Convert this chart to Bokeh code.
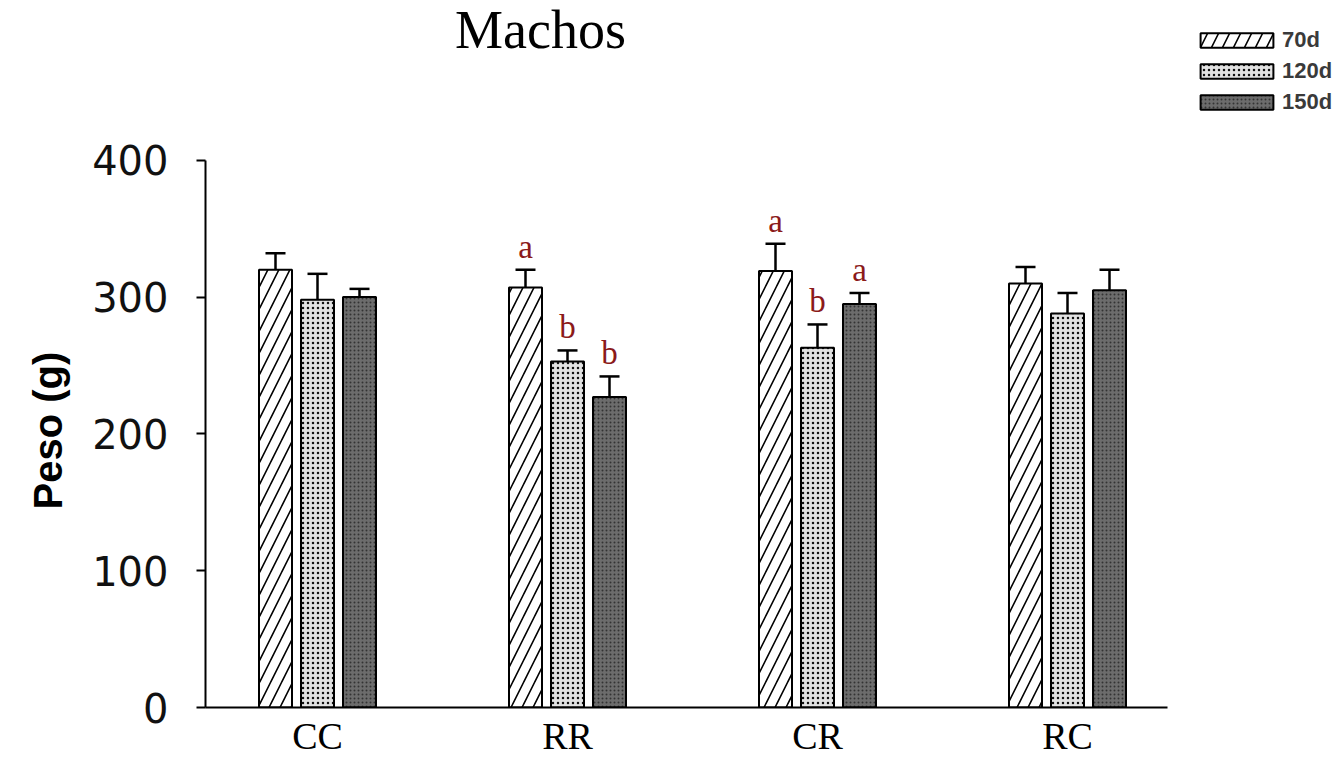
import math
from bokeh.plotting import figure
from bokeh.models import (ColumnDataSource, Range1d, FixedTicker, Whisker, TeeHead,
                          Legend, LegendItem, Label, Title)
from bokeh.core.properties import value
from bokeh.embed import file_html
from bokeh.resources import INLINE

groups = ["CC", "RR", "CR", "RC"]
series = ["70d", "120d", "150d"]
mean_70 = [320, 307, 319, 310]
mean_120 = [298, 253, 263, 288]
mean_150 = [300, 227, 295, 305]
err_70 = [332, 320, 339, 322]
err_120 = [317, 261, 280, 303]
err_150 = [306, 242, 303, 320]
letters_70 = ["", "a", "a", ""]
letters_120 = ["", "b", "b", ""]
letters_150 = ["", "b", "a", ""]
title_text = "Machos"
y_label = "Peso (g)"
y_ticks = [0, 100, 200, 300, 400]

W, H = 1341, 759
p = figure(width=W, height=H, output_backend="svg", toolbar_location=None,
           x_range=Range1d(-0.448, 4.096), y_range=Range1d(0, 516.8),
           min_border_left=205, min_border_right=0, min_border_top=0, min_border_bottom=51)
p.outline_line_color = None
p.xgrid.visible = False
p.ygrid.visible = False
p.background_fill_color = "white"

styles = [
    dict(fill_color="white", hatch_pattern="/", hatch_color="black", hatch_scale=22, hatch_weight=1.6),
    dict(fill_color="#e2e2e2", hatch_pattern="dot", hatch_color="#111111", hatch_scale=5, hatch_weight=4),
    dict(fill_color="#6c6c6c", hatch_pattern="dot", hatch_color="#333333", hatch_scale=4, hatch_weight=2),
]
means = [mean_70, mean_120, mean_150]
errs = [err_70, err_120, err_150]
letters = [letters_70, letters_120, letters_150]
offsets = [-0.168, 0.0, 0.168]

items = []
for k, name in enumerate(series):
    xs = [i + offsets[k] for i in range(len(groups))]
    src = ColumnDataSource(dict(x=xs, top=means[k], err=errs[k], lab=letters[k]))
    r = p.vbar(x="x", top="top", bottom=0, width=0.132, source=src,
               line_color="black", line_width=2, **styles[k])
    wh = Whisker(base="x", lower="top", upper="err", source=src, dimension="height",
                 line_color="black", line_width=2.5, lower_head=None,
                 upper_head=TeeHead(size=20, line_color="black", line_width=2.5))
    p.add_layout(wh)
    p.text(x="x", y="err", text="lab", source=src, text_align="center",
           text_baseline="bottom", y_offset=-5, text_font=value("Liberation Serif"),
           text_font_size="33px", text_color="#8b1a1a")
    items.append(LegendItem(label=name, renderers=[r]))

legend = Legend(items=items, location=(986, 592), orientation="vertical",
                glyph_width=91, glyph_height=18, spacing=5, padding=0, margin=0,
                label_standoff=0, label_text_font="Liberation Sans",
                label_text_font_size="22px", label_text_font_style="bold",
                label_text_color="#3a3a3a", label_height=14,
                border_line_color=None, background_fill_alpha=0)
p.add_layout(legend)

p.add_layout(Label(x=0.892, y=473, text=title_text, text_align="center",
                   text_baseline="bottom", text_font="Liberation Serif",
                   text_font_size="54px", text_color="black"))

ytitle = Title(text=y_label, align="left", offset=198, standoff=40,
               text_font="Liberation Sans", text_font_size="40px",
               text_font_style="bold", text_color="black")
p.add_layout(ytitle, "left")

# axes
p.yaxis.ticker = FixedTicker(ticks=y_ticks)
p.yaxis.bounds = (0, 400)
p.yaxis.axis_line_width = 2
p.yaxis.major_tick_line_width = 2
p.yaxis.major_tick_out = 9
p.yaxis.major_tick_in = 0
p.yaxis.minor_tick_out = 0
p.yaxis.minor_tick_in = 0
p.yaxis.major_label_standoff = 28
p.yaxis.major_label_text_font = "DejaVu Sans"
p.yaxis.major_label_text_font_size = "40px"
p.yaxis.major_label_text_color = "#111111"

p.xaxis.ticker = FixedTicker(ticks=list(range(len(groups))))
p.xaxis.major_label_overrides = {i: g for i, g in enumerate(groups)}
p.xaxis.bounds = (-0.448, 3.4)
p.xaxis.axis_line_width = 2
p.xaxis.major_tick_out = 0
p.xaxis.major_tick_in = 0
p.xaxis.minor_tick_out = 0
p.xaxis.minor_tick_in = 0
p.xaxis.major_label_standoff = 7
p.xaxis.major_label_text_font = "Liberation Serif"
p.xaxis.major_label_text_font_size = "38px"
p.xaxis.major_label_text_color = "black"

open("out.html", "w").write(file_html(p, INLINE))
